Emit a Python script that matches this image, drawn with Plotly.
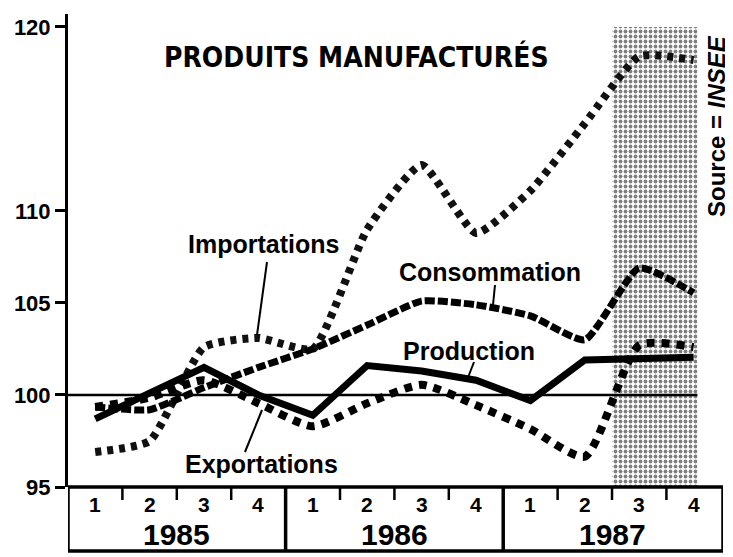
import plotly.graph_objects as go

# ---------------- data ----------------
quarters = ["1", "2", "3", "4"] * 3
years = ["1985", "1986", "1987"]
x_idx = list(range(12))

importations = [96.9, 97.5, 102.6, 103.1, 102.5, 109.0, 112.5, 108.8, 111.1, 114.75, 118.4, 118.2]
consommation = [99.35, 99.2, 100.4, 101.5, 102.5, 103.8, 105.1, 104.9, 104.3, 103.0, 106.9, 105.55]
production = [98.7, 100.05, 101.5, 100.0, 98.9, 101.6, 101.3, 100.8, 99.7, 101.9, 101.95, 102.05]
exportations = [99.35, 99.85, 100.8, 99.55, 98.3, 99.55, 100.55, 99.45, 98.15, 96.65, 102.7, 102.6]

y_ticks = [95, 100, 105, 110, 120]
Y_MIN, Y_MAX = 95, 120.7
X_MIN, X_MAX = -0.5, 11.54
SHADE = (9.5, 11.07)          # shaded (provisional) period
LINE_END = 11.07

# ---------------- layout geometry ----------------
# the page body has an 8px default margin: the figure is placed at (8, 8)
OFF = 8
W, H = 733 - OFF, 557 - OFF
PLOT_LEFT, PLOT_RIGHT, PLOT_TOP, PLOT_BOTTOM = 68, 723, 14, 487   # in screenshot pixels
L = PLOT_LEFT - OFF
R = W - (PLOT_RIGHT - OFF)
T = PLOT_TOP - OFF
B = H - (PLOT_BOTTOM - OFF)
PW, PH = W - L - R, H - T - B


def px(xp):
    return (xp - PLOT_LEFT) / PW


def py(yp):
    return (PLOT_BOTTOM - yp) / PH


FONT = "Liberation Sans, Arial, sans-serif"
NARROW = "DejaVu Sans Condensed, Liberation Sans, Arial"

fig = go.Figure()

# shaded period (stipple)
fig.add_trace(go.Scatter(
    x=[SHADE[0], SHADE[1], SHADE[1], SHADE[0], SHADE[0]],
    y=[Y_MIN, Y_MIN, 120, 120, Y_MIN],
    fill="toself", mode="lines", line=dict(width=0),
    fillcolor="rgba(0,0,0,0)",
    fillpattern=dict(shape=".", fgcolor="black", bgcolor="white", size=5, solidity=0.45),
    hoverinfo="skip", showlegend=False))

# reference line at 100
fig.add_shape(type="line", x0=X_MIN, x1=LINE_END, y0=100, y1=100,
              line=dict(color="black", width=2.5), layer="above")

fig.add_trace(go.Scatter(x=x_idx, y=importations, mode="lines",
                         line=dict(color="#111", width=8, dash="6px,6px", shape="spline", smoothing=0.5),
                         showlegend=False))
fig.add_trace(go.Scatter(x=x_idx, y=consommation, mode="lines",
                         line=dict(color="black", width=7, dash="10px,3px", shape="spline", smoothing=0.5),
                         showlegend=False))
fig.add_trace(go.Scatter(x=x_idx, y=exportations, mode="lines",
                         line=dict(color="black", width=8, dash="8px,7px", shape="spline", smoothing=0.6),
                         showlegend=False))
fig.add_trace(go.Scatter(x=x_idx, y=production, mode="lines",
                         line=dict(color="black", width=7),
                         showlegend=False))

# ---------------- bottom table ----------------
tb_top, tb_bot = 0, py(551)
lw = 3.5
fig.add_shape(type="rect", xref="x", yref="paper", x0=X_MIN, x1=X_MAX, y0=tb_bot, y1=tb_top,
              line=dict(color="black", width=lw))
for b in (3.5, 7.5):
    fig.add_shape(type="line", xref="x", yref="paper", x0=b, x1=b, y0=tb_bot, y1=tb_top,
                  line=dict(color="black", width=lw))
for i in range(11):
    b = i + 0.5
    if b in (3.5, 7.5):
        continue
    fig.add_shape(type="line", xref="x", yref="paper", x0=b, x1=b, y0=py(500), y1=tb_top,
                  line=dict(color="black", width=2.5))

for i, q in enumerate(quarters):
    fig.add_annotation(x=i, y=py(504), xref="x", yref="paper", text="<b>%s</b>" % q,
                       xanchor="center", yanchor="middle",
                       showarrow=False, font=dict(family=FONT, size=21, color="black"))
for k, yr in enumerate(years):
    fig.add_annotation(x=4 * k + 1.5, y=py(534), xref="x", yref="paper", text="<b>%s</b>" % yr,
                       xanchor="center", yanchor="middle",
                       showarrow=False, font=dict(family=FONT, size=30, color="black"))

# ---------------- texts ----------------
fig.add_annotation(x=px(356), y=py(57), xref="paper", yref="paper",
                   text="<b>PRODUITS MANUFACTURÉS</b>", showarrow=False,
                   xanchor="center", yanchor="middle",
                   font=dict(family=NARROW, size=28, color="black"))

labels = [
    ("Importations", 263, 244),
    ("Consommation", 490, 272),
    ("Production", 469, 351),
    ("Exportations", 261, 464),
]
for txt, xp, yp in labels:
    fig.add_annotation(x=px(xp), y=py(yp), xref="paper", yref="paper",
                       text="<b>%s</b>" % txt, showarrow=False,
                       xanchor="center", yanchor="middle",
                       font=dict(family=FONT, size=25, color="black"))

# leader lines (pixel positions converted to paper coordinates)
leaders = [((267, 262), (257, 335)), ((245, 452), (262, 410)),
           ((495, 285), (493, 305)), ((474, 362), (467, 380))]
for (xa, ya), (xb, yb) in leaders:
    fig.add_shape(type="line", xref="paper", yref="paper",
                  x0=px(xa), y0=py(ya), x1=px(xb), y1=py(yb),
                  line=dict(color="black", width=2))

fig.add_annotation(x=px(716), y=py(126), xref="paper", yref="paper",
                   text="<b>Source = <i>INSEE</i></b>", textangle=-90, showarrow=False,
                   xanchor="center", yanchor="middle",
                   font=dict(family=FONT, size=24, color="black"))

fig.update_layout(
    width=W, height=H,
    margin=dict(l=L, r=R, t=T, b=B, autoexpand=False),
    paper_bgcolor="white", plot_bgcolor="white",
    showlegend=False,
    xaxis=dict(range=[X_MIN, X_MAX], showgrid=False, zeroline=False, showticklabels=False,
               ticks="", showline=False, automargin=False),
    yaxis=dict(range=[Y_MIN, Y_MAX], tickvals=y_ticks, ticktext=["<b>%d</b>" % v for v in y_ticks],
               showgrid=False, zeroline=False, showline=True, linewidth=3, linecolor="black",
               ticks="outside", ticklen=10, tickwidth=3, tickcolor="black", automargin=False,
               tickfont=dict(family=FONT, size=22, color="black")),
)

fig.write_html("out.html")
